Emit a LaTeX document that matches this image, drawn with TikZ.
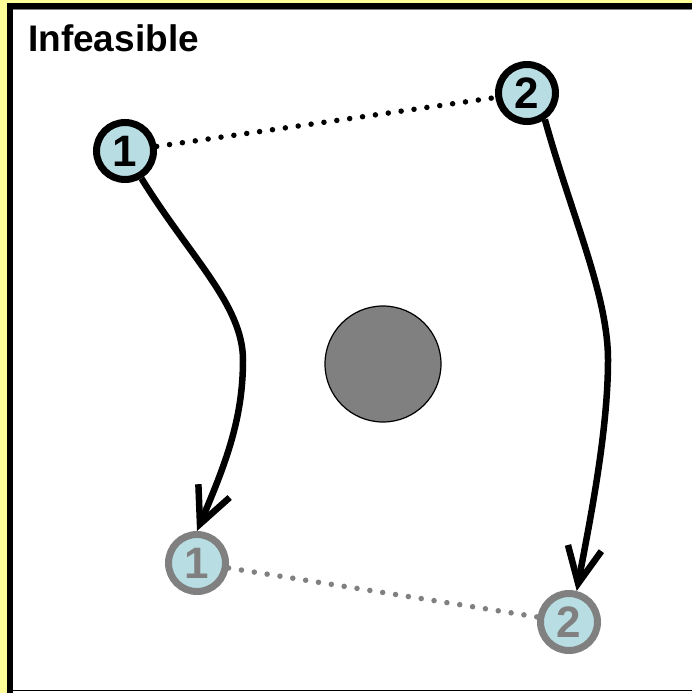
\documentclass[tikz,border=0pt]{standalone}
\usepackage{fontspec}
\setmainfont{Liberation Sans}
\usetikzlibrary{arrows.meta}
\definecolor{bgyellow}{RGB}{255,255,153}
\definecolor{nodeblue}{RGB}{184,222,227}
\definecolor{midgray}{RGB}{128,128,128}
\begin{document}
\begin{tikzpicture}[x=1pt,y=-1pt,
  robot/.style={circle, draw=black, line width=7pt, fill=nodeblue, minimum size=57pt, inner sep=0pt, font=\fontsize{44}{44}\selectfont\bfseries},
  ghost/.style={robot, draw=midgray, text=midgray},
  link/.style={line width=5.5pt, dash pattern=on 0pt off 13pt, line cap=round},
  move/.style={line width=6.5pt, -{Straight Barb[length=36pt,width=34pt]}},
]
\useasboundingbox (0,0) rectangle (692,693);
\fill[bgyellow] (0,0) rectangle (692,693);
\fill[white] (13,9) rectangle (692,693);
\fill[black] (7.3,2.7) rectangle (13.3,693);
\fill[black] (7.3,2.7) rectangle (692,9);
\draw[gray, line width=1pt] (13,9.5) -- (692,9.5);
\draw[black, line width=1.3pt] (13,690.5) -- (692,690.5);

\node[anchor=base west, inner sep=0pt, font=\fontsize{37}{37}\selectfont\bfseries] (title) at (28,52) {Infeasible};

\node[circle, draw=black, line width=1.2pt, fill=midgray, minimum size=116pt, inner sep=0pt] (obs) at (383,364) {};

\node[robot] (n1) at (125,151) {1};
\node[robot] (n2) at (527,93) {2};
\node[ghost] (m1) at (197,563) {1};
\node[ghost] (m2) at (569,622) {2};

\draw[link, black] (n1) -- (n2);
\draw[link, midgray] (m1) -- (m2);

\draw[move] (n1.-59) .. controls (190,257) and (243,305) .. (243,360)
  .. controls (243,420) and (225,465) .. (m1.north);
\draw[move] (n2.-56) .. controls (572,217) and (608,295) .. (608,360)
  .. controls (608,435) and (588,530) .. (m2.76);
\end{tikzpicture}
\end{document}
